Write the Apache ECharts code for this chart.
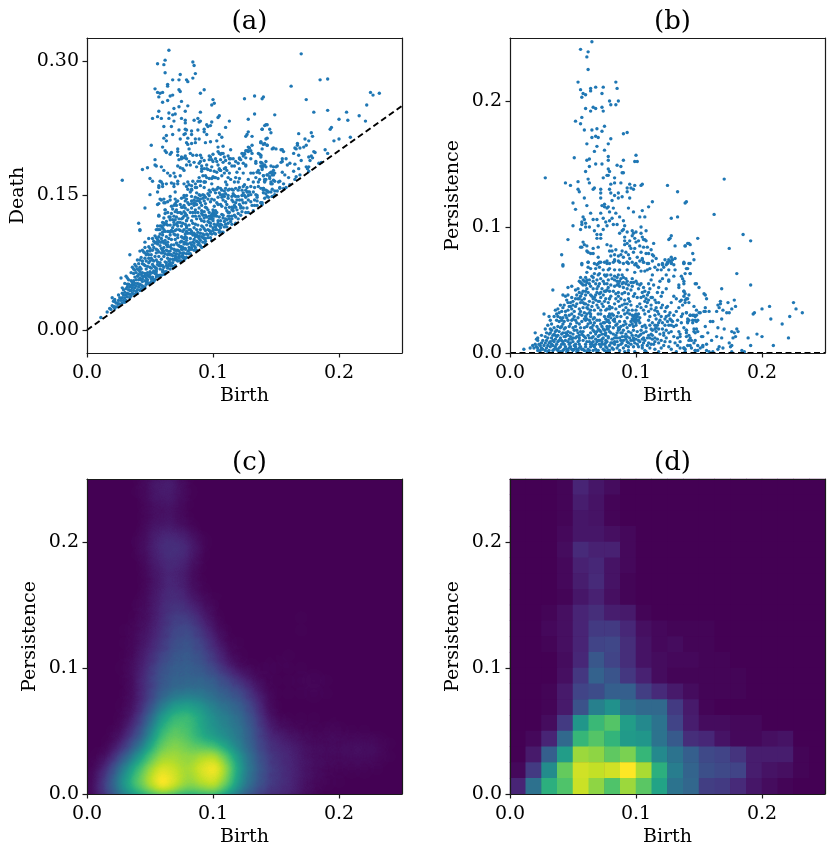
<!DOCTYPE html>
<html><head><meta charset="utf-8">
<style>html,body{margin:0;padding:0;background:#fff}#c{width:835px;height:857px}</style>
<script src="https://cdn.jsdelivr.net/npm/echarts@6/dist/echarts.min.js"></script>
</head><body><div id="c"></div>
<script>
// Points: [birth, persistence] in thousandths.
const ptsUpper=[[65,247],[56,241],[62,239],[61,235],[62,225],[54,215],[84,215],[56,209],[64,210],[64,208],[68,211],[74,211],[85,210],[73,206],[58,206],[60,205],[57,203],[79,200],[86,200],[80,197],[84,197],[60,194],[66,195],[68,194],[73,195],[64,192],[74,192],[57,187],[52,184],[56,182],[75,180],[59,177],[65,177],[69,178],[73,176],[90,174],[93,175],[68,172],[65,171],[70,171],[80,170],[61,166],[69,164],[78,166],[75,161],[67,160],[51,155],[78,156],[61,153],[63,154],[78,153],[90,153],[100,157],[99,152],[101,152],[63,148],[68,150],[73,150],[85,149],[88,148],
[28,139],[44,135],[54,136],[48,133],[62,138],[63,135],[54,130],[55,128],[67,131],[66,130],[72,130],[72,127],[79,130],[80,127],[80,134],[83,135],[88,135],[83,139],[74,139],[77,141],[78,141],[78,146],[79,144],[89,143],[90,143],[60,144],[95,134],[99,133],[96,131],[93,131],[93,128],[98,130],[104,133],[105,134],[125,133],[133,128],[86,127],[83,125],[86,123],[89,124],[81,121],[95,123],[72,123],[59,123],[50,119],[52,114],[61,117],[73,117],[75,118],[75,116],[77,115],[78,116],[82,115],[79,112],[84,111],[94,115],[98,112],[105,113],[110,116],[113,120],[140,120],[64,111],[72,111],[58,108],[59,106],[66,106],[69,106],[74,107],[81,107],[87,108],[90,105],[103,108],[107,108],[128,107],[133,108],[57,104],[60,103],[57,102],[50,101],[76,104],[79,105],[82,102],[70,101],[77,101],[85,102],[60,100],[63,100],[56,98],[74,98],[91,101],[90,98],[89,97],[87,95],[93,96],[104,100],[108,97],[67,97],[69,94],[72,94],[97,97],[100,96],[104,95],[98,95],[97,93],[91,92],[99,91],[69,91],[72,91],[46,90],[106,90],[107,90],[108,89],[91,89],[102,89],[95,89],[127,91],[128,93],[126,90],[114,87],[93,87],[91,86],[95,85],[99,83],[104,80],[131,85],[139,85],[142,87],[58,88],[59,86],[61,85],[56,84],[57,84],[66,83],[70,84],[77,86],[80,85],[79,81],[81,81],[84,82],[89,81],[61,81],[62,80],[64,79],[66,79],[41,78],[70,76],[80,77],[90,76],[101,76],[105,75],[108,79],[110,79],[113,78],[114,77],[128,76],[131,75],[123,74],[125,71],[127,73],[128,71],[121,71],[138,71],[142,71],[42,70],[57,71],[62,72],[70,71],[72,72],[75,72],[79,71],[83,74],[83,73],[86,73],[90,71],[93,72],[94,71],[100,71],[105,74],[106,72],[110,71]];
const ptsRight=[[170,138],[139,119],[162,110],[149,91],[185,94],[191,89],[139,85],[141,87],[143,86],[174,83],[145,79],[146,74],[138,71],[143,71],[140,67],[180,63],[143,63],[136,61],[137,59],[138,57],[138,55],[147,55],[150,52],[191,54],[168,51],[138,49],[139,47],[142,46],[155,46],[156,43],[140,43],[136,42],[139,40],[142,40],[137,38],[146,37],[178,42],[173,40],[167,41],[167,39],[165,38],[166,36],[155,36],[148,34],[169,34],[176,35],[179,37],[225,40],[227,35],[232,32],[206,37],[200,35],[194,32],[193,31],[207,27],[222,29],[216,23],[221,12],[209,6],[200,13],[196,15],[189,12],[191,6],[184,2],[186,1],[137,31],[140,32],[143,30],[145,30],[147,29],[151,32],[155,33],[158,33],[164,33],[172,32],[174,32],[168,27],[141,27],[141,25],[145,26],[145,24],[148,25],[149,26],[159,25],[161,25],[155,21],[165,20],[170,19],[180,19],[181,17],[176,17],[178,16],[140,18],[146,17],[148,19],[147,16],[157,16],[135,15],[140,16],[142,14],[140,13],[143,12],[152,13],[164,13],[168,12],[179,13],[177,12],[160,10],[144,10],[146,8],[174,8],[175,5],[176,6],[166,5],[169,4],[165,3],[156,7],[153,6],[153,5],[149,6],[138,4],[139,3],[147,2],[149,2],[156,2],[161,1],[158,1],[176,1]];
const ptsDenseLeft=[[42,69],[34,50],[27,31],[46,52],[49,53],[42,46],[44,45],[46,46],[56,60],[55,57],[58,58],[59,57],[57,55],[60,54],[56,56],[58,54],[57,70],[62,72],[62,68],[61,64],[64,67],[67,71],[69,70],[71,72],[68,67],[71,68],[71,63],[74,66],[75,62],[77,71],[78,66],[76,61],[70,62],[67,63],[72,59],[74,57],[61,58],[65,61],[66,57],[68,55],[71,55],[75,55],[78,58],[61,51],[64,53],[54,51],[52,50],[58,49],[60,49],[66,51],[69,51],[73,51],[77,50],[64,46],[65,45],[68,46],[71,47],[74,46],[56,45],[59,43],[54,43],[52,43],[49,44],[46,40],[48,40],[50,41],[53,39],[56,40],[63,41],[66,40],[69,38],[71,41],[75,41],[79,43],[40,38],[38,35],[42,36],[44,33],[49,35],[51,33],[55,35],[58,36],[62,35],[64,34],[67,34],[74,37],[77,35],[79,37],[37,31],[39,32],[31,29],[32,26],[38,29],[40,28],[44,30],[49,31],[51,29],[54,28],[57,30],[60,29],[64,29],[66,27],[70,31],[72,31],[75,29],[79,30],[37,26],[39,25],[41,26],[42,23],[46,26],[49,26],[53,24],[57,25],[60,26],[64,24],[67,24],[71,26],[75,24],[78,26],[38,21],[40,20],[44,20],[47,21],[52,21],[56,20],[61,21],[65,20],[69,21],[73,21],[77,21],[28,19],[32,19],[20,16],[22,12],[28,13],[32,16],[36,17],[39,17],[42,16],[46,17],[51,18],[54,16],[58,17],[64,16],[67,17],[71,18],[75,18],[79,17],[21,11],[22,10],[26,10],[30,12],[33,12],[37,13],[40,12],[44,13],[48,13],[52,12],[55,12],[59,13],[63,12],[66,13],[70,13],[74,12],[78,13],[25,8],[28,8],[31,8],[35,9],[38,9],[42,9],[46,9],[50,9],[54,9],[58,10],[61,9],[65,8],[69,9],[73,9],[77,9],[11,3],[16,4],[19,4],[21,5],[22,4],[25,4],[29,4],[32,5],[36,5],[40,5],[44,5],[48,5],[52,5],[56,5],[60,5],[64,5],[67,5],[72,5],[76,5],[22,2],[24,2],[28,2],[31,2],[34,2],[38,2],[42,2],[46,2],[50,2],[54,2],[59,2],[63,2],[66,2],[70,2],[75,2],[78,2],[30,1],[40,1],[45,1],[53,1],[61,1],[69,1],[77,1]];
const ptsDenseRight=[[77,73],[82,72],[87,72],[93,72],[99,70],[101,69],[106,72],[109,71],[121,70],[125,72],[128,72],[138,72],[141,67],[143,63],[131,66],[126,66],[124,62],[121,59],[119,57],[126,58],[130,61],[139,63],[148,55],[134,54],[134,52],[126,57],[113,62],[112,58],[104,65],[107,65],[99,64],[93,66],[87,66],[83,66],[79,67],[77,62],[81,59],[85,57],[87,57],[90,56],[92,55],[93,57],[90,52],[93,51],[87,53],[83,53],[80,54],[77,55],[76,49],[79,49],[86,48],[97,59],[101,55],[104,55],[110,55],[114,54],[111,51],[107,49],[102,51],[97,53],[124,51],[121,48],[120,45],[116,40],[130,45],[132,43],[138,49],[141,43],[139,42],[138,45],[154,47],[135,41],[79,43],[84,43],[88,43],[94,43],[98,45],[95,41],[91,39],[87,37],[84,35],[79,35],[76,34],[79,31],[82,30],[86,32],[90,34],[94,34],[97,34],[101,37],[103,39],[107,41],[109,40],[108,37],[112,35],[115,34],[117,33],[115,30],[111,29],[107,31],[102,31],[98,29],[97,27],[99,27],[102,26],[100,24],[97,23],[103,24],[123,33],[120,29],[123,27],[127,27],[130,30],[132,33],[128,22],[132,22],[123,22],[118,24],[115,22],[111,22],[107,22],[108,20],[112,19],[116,20],[118,19],[140,32],[143,30],[146,30],[148,30],[150,32],[154,33],[147,26],[142,26],[141,24],[138,20],[140,18],[146,19],[149,17],[153,13],[77,25],[79,24],[83,25],[87,25],[90,22],[93,20],[86,20],[82,20],[78,19],[76,16],[80,16],[85,16],[89,16],[94,17],[98,18],[101,17],[103,14],[97,14],[91,13],[87,12],[83,12],[78,12],[76,8],[80,8],[85,9],[89,8],[93,9],[98,10],[102,10],[106,12],[109,12],[113,11],[119,15],[122,14],[126,16],[130,13],[133,12],[135,9],[127,9],[123,9],[118,8],[114,7],[110,8],[106,8],[102,5],[98,5],[94,5],[90,4],[85,4],[81,4],[77,4],[79,2],[87,2],[94,2],[105,4],[107,2],[111,4],[115,3],[120,4],[128,3],[135,4],[138,4],[142,10],[143,6],[147,2],[151,4],[147,10],[99,1],[91,1],[108,1],[118,1],[132,1],[139,1]];
const ptsClusters=[[97,30],[99,30],[100,28],[101,29],[99,25],[98,26],[101,26],[103,28],[100,22],[98,21],[100,31],[83,58],[85,60],[88,59],[89,55],[86,55],[90,60],[85,54],[60,60],[61,56],[63,55],[66,43],[68,42],[70,36],[72,34],[61,31],[59,27],[55,23],[53,18],[50,15],[47,11],[43,7],[41,10],[36,11],[34,14],[35,20],[42,28],[46,34],[48,37],[52,37],[60,39],[62,38],[64,31],[67,28],[69,26],[72,23],[74,19],[76,14],[73,15],[70,10],[68,7],[65,12],[62,14],[59,20],[57,15],[55,10],[52,7],[49,11],[47,7],[44,10],[63,26],[66,22],[69,17],[71,14],[73,7],[75,7],[81,11],[84,14],[86,18],[88,21],[91,25],[93,28],[95,31],[92,36],[89,38],[86,41],[83,39],[81,36],[82,26],[84,22],[90,18],[92,15],[95,12],[100,14],[104,18],[105,21],[110,26],[113,24],[116,27],[118,31],[112,15],[115,12],[116,17],[121,19],[124,12],[128,17],[131,8],[126,5],[122,6],[112,7],[105,11],[96,7],[92,6],[88,10],[83,7],[82,3],[57,3],[55,7],[51,3],[48,8],[45,3],[41,7],[37,7],[35,3],[33,7],[30,6],[27,6],[24,6],[26,3],[105,48],[109,46],[113,44],[117,48],[118,52],[116,36],[121,38],[125,37],[128,40],[134,36],[136,29],[133,26],[129,25],[125,25],[136,24],[134,17],[133,6],[135,13],[141,6],[144,4]];
const ptsSecondPass=[[33,23],[35,29],[36,34],[30,22],[29,16],[25,14],[23,7],[20,7],[18,6],[34,10],[37,18],[41,21],[43,25],[45,28],[47,30],[50,27],[52,26],[55,31],[48,23],[50,20],[45,15],[43,13],[39,10],[36,14],[41,33],[43,38],[45,42],[47,37],[50,38],[53,46],[55,48],[57,42],[59,39],[61,36],[63,32],[65,37],[67,44],[69,48],[72,44],[70,41],[73,39],[76,43],[78,40],[80,45],[82,49],[84,47],[86,45],[89,47],[91,48],[94,47],[96,50],[99,47],[101,44],[104,44],[106,45],[108,43],[110,42],[112,38],[110,33],[106,34],[104,36],[100,34],[96,38],[93,39],[91,42],[81,31],[85,29],[88,29],[91,31],[93,32],[96,25],[95,22],[92,23],[88,16],[85,12],[82,15],[79,21],[77,19],[75,15],[73,11],[71,10],[68,11],[66,9],[63,9],[60,12],[58,14],[56,17],[55,14],[53,13],[50,12],[48,16],[46,14],[44,16],[43,19],[41,15],[38,14],[35,15],[33,18],[31,15],[29,10],[32,9],[34,6],[37,3],[39,4],[43,3],[47,4],[49,3],[51,6],[53,3],[55,4],[58,3],[60,7],[62,3],[64,7],[66,6],[68,3],[71,7],[74,3],[76,10],[79,6],[81,8],[83,9],[86,6],[88,7],[90,10],[92,11],[94,8],[96,10],[99,8],[101,7],[103,9],[105,6],[107,10],[109,6],[111,12],[113,14],[115,9],[117,11],[120,10],[122,16],[124,18],[126,22],[128,26],[130,21],[127,32],[124,36],[120,36],[118,40],[115,42],[112,44],[110,48],[106,52],[103,54],[100,57],[98,56],[96,56],[94,54],[92,59],[89,62],[86,62],[83,61],[80,62],[78,52],[75,49],[72,48],[70,53],[69,58],[66,60],[63,58],[62,48],[60,46],[57,47],[55,43],[58,40],[56,33],[59,32],[61,27],[62,23],[64,20],[66,18],[68,15],[70,19],[72,17],[74,24],[76,27],[78,29],[80,28],[83,27],[85,23],[87,19],[89,13],[93,13],[96,16],[98,12],[100,11],[102,13],[104,15],[106,16],[108,17],[110,14],[113,18],[115,19],[117,22],[119,26],[121,24],[124,29],[126,30]];
const ptsMidBand=[[92,80],[94,78],[96,83],[98,80],[100,88],[103,85],[105,92],[106,84],[109,84],[112,82],[113,73],[116,75],[118,70],[117,66],[120,66],[122,68],[124,70],[126,74],[129,74],[130,70],[115,68],[111,67],[109,66],[102,68],[103,73],[97,72],[95,75],[88,78],[86,77],[83,78]];
// Panel (d): 2D histogram levels (percent of maximum), top row first, columns left to right.
const histRows=[
[0,0,0,1,10,6,3],[0,0,0,1,8,5,1],[0,0,0,1,6,5,1],[0,0,0,2,6,6,4,2],[0,0,0,3,12,9,9,2],[0,0,0,2,9,11,5,2],[0,0,0,2,8,12,5,1],[0,0,0,1,6,9,4,1],
[0,0,1,4,10,13,8,7,1],[0,0,2,4,10,17,17,11,4,2,1,1,1],[0,0,1,4,10,20,21,13,5,2,3,1,1],[0,0,0,3,11,27,20,13,5,3,2,2,1,1],[0,0,0,4,16,31,26,16,9,3,1,1,1,1,1],
[0,0,1,7,20,23,30,30,18,12,7,3,1,1,1],[0,0,1,7,25,43,50,37,34,34,17,7,1],[0,0,3,17,52,67,73,55,47,38,20,8,3,3,2,2],[0,2,10,34,66,73,65,54,52,38,28,13,11,5,2,2,4,5],
[0,7,30,55,85,83,75,80,66,47,38,30,22,20,15,8,8,8,1],[2,17,48,76,93,91,93,100,87,63,42,32,24,22,20,8,5,4,1],[10,37,63,72,92,83,72,85,74,58,38,33,18,17,12,6,3,1]];
// Panel (c): density levels (percent of maximum) at birth and persistence steps of 0.01, top row first.
const kdeRows=[
[0,0,0,0,1,5,10,8,2],[0,0,0,0,2,7,11,9,3],[0,0,0,0,1,5,8,7,2],[0,0,0,0,0,5,7,6,2],[0,0,0,0,1,6,10,9,5,1],[0,0,0,0,2,8,14,15,12,4],[0,0,0,0,2,8,14,15,12,3],[0,0,0,0,1,6,11,12,8,2],[0,0,0,0,0,5,10,12,7,2],[0,0,0,0,1,5,11,14,9,4,1],[0,0,0,0,2,6,12,16,12,7,2],
[0,0,0,1,3,7,13,19,18,11,4,1,0,0,0,0,0,2],[0,0,0,2,5,9,14,21,22,16,8,2,1,0,0,0,1,2],[0,0,0,2,5,10,16,23,25,19,12,4,2,1,0,0,1],[0,0,0,2,6,12,19,25,27,22,16,7,3,1,0,0,2],
[0,0,0,3,7,15,24,28,28,25,20,10,5,3,2,2,2,2,1],[0,0,0,2,8,17,26,29,28,30,28,22,15,8,3,2,2,3,4,2],[0,0,0,2,8,17,27,32,34,34,30,26,22,14,6,2,2,2,3,2],[0,0,0,3,9,20,37,48,50,46,38,33,29,20,8,2,1,1],
[0,0,1,4,12,28,50,60,64,52,43,38,33,24,10,3,2,2,2,1],[0,0,2,7,18,35,59,66,60,50,44,40,36,27,14,8,5,4,3,3,3,2,2,1],[0,1,4,13,26,44,67,72,66,58,52,45,37,27,16,12,11,7,5,5,5,6,6,5,2],
[0,3,9,24,42,60,76,76,72,75,80,63,44,32,20,14,12,8,6,5,5,6,6,5,2],[1,6,20,40,57,73,85,80,72,85,93,76,47,33,22,15,13,9,6,4,3,3,3,2],[1,10,27,48,66,80,96,85,72,78,86,68,44,31,21,15,13,8,5,3,2],[0,9,24,42,52,60,64,60,56,58,60,50,35,24,16,13,10,6,3,1]];
const xTicks=[0,0.1,0.2];
const yTicksA=[0,0.15,0.3];
const yTicksP=[0,0.1,0.2];
const panelTitles=['(a)','(b)','(c)','(d)'];
const viridis=['#440154','#482475','#414487','#355f8d','#2a788e','#21918c','#22a884','#44bf70','#7ad151','#bddf26','#fde725'];

const points=[...ptsUpper,...ptsRight,...ptsDenseLeft,...ptsDenseRight,...ptsClusters,...ptsSecondPass,...ptsMidBand];
const birthPers=points.map(p=>[p[0]/1000,p[1]/1000]);
const birthDeath=points.map(p=>[p[0]/1000,(p[0]+p[1])/1000]);
const histData=[];
histRows.forEach((r,i)=>{for(let c=0;c<20;c++)histData.push([c,19-i,(r[c]||0)/100]);});
const AMAX=10/11, KERNEL_SUM=2.3, EDGE=1.1;
const kdeData=[];
kdeRows.forEach((r,i)=>{const j=25-i;r.forEach((v,c)=>{if(!v)return;
  const s=j===0?KERNEL_SUM/EDGE:KERNEL_SUM;
  kdeData.push([c*0.01,j*0.01,Math.min(1,-Math.log(1-v/100*AMAX)/s)]);});});

const FONT='"DejaVu Serif"';
const boxes=[[87,38],[510,38],[87,479],[510,479]];
const SIZE=315;
const ranges=[[-0.02565,0.3257],[0,0.25],[0,0.25],[0,0.25]];
const names=['Death','Persistence','Persistence','Persistence'];
const yTicks=[yTicksA,yTicksP,yTicksP,yTicksP];
const line={lineStyle:{color:'#1a1a1a',width:1.2}};
const grid=[],xAxis=[],yAxis=[],title=[];
boxes.forEach((b,p)=>{
  grid.push({left:b[0],top:b[1],width:SIZE,height:SIZE,containLabel:false,show:p>=2,backgroundColor:'#440154',borderWidth:0});
  title.push({text:panelTitles[p],left:b[0]+SIZE/2,top:b[1]-34,textAlign:'center',textStyle:{fontFamily:FONT,fontSize:26,fontWeight:'normal',color:'#000'}});
  xAxis.push({type:'value',gridIndex:p,min:0,max:0.25,position:'bottom',z:10,name:'Birth',nameLocation:'middle',nameGap:33.5,
    nameTextStyle:{fontFamily:FONT,fontSize:19,color:'#000'},axisLine:{show:true,onZero:false,...line},splitLine:{show:false},
    axisTick:{show:true,length:4.5,customValues:xTicks,...line},
    axisLabel:{customValues:xTicks,fontFamily:FONT,fontSize:19,color:'#000',margin:11,formatter:v=>v.toFixed(1)}});
  yAxis.push({type:'value',gridIndex:p,min:ranges[p][0],max:ranges[p][1],position:'left',z:10,name:names[p],nameLocation:'middle',nameGap:p===0?59.5:47,
    nameTextStyle:{fontFamily:FONT,fontSize:19,color:'#000'},axisLine:{show:true,onZero:false,...line},splitLine:{show:false},
    axisTick:{show:true,length:4.5,customValues:yTicks[p],...line},
    axisLabel:{customValues:yTicks[p],fontFamily:FONT,fontSize:19,color:'#000',margin:8,formatter:v=>v.toFixed(p===0?2:1)}});
  const cats=Array.from({length:20},(_,i)=>i);
  const frameX=p===3?{type:'category',data:cats,boundaryGap:true}:{type:'value',min:0,max:0.25};
  const frameY=p===3?{type:'category',data:cats,boundaryGap:true}:{type:'value',min:ranges[p][0],max:ranges[p][1]};
  xAxis.push({...frameX,gridIndex:p,position:'top',z:10,axisLine:{show:true,onZero:false,...line},axisTick:{show:false},axisLabel:{show:false},splitLine:{show:false}});
  yAxis.push({...frameY,gridIndex:p,position:'right',z:10,axisLine:{show:true,onZero:false,...line},axisTick:{show:false},axisLabel:{show:false},splitLine:{show:false}});
});
echarts.registerMap('birthPersistence',{type:'FeatureCollection',features:[{type:'Feature',properties:{name:'box'},
  geometry:{type:'Polygon',coordinates:[[[0,0],[0.25,0],[0.25,0.25],[0,0.25],[0,0]]]}}]});
const chart=echarts.init(document.getElementById('c'),null,{renderer:'canvas'});
const dots={type:'scatter',symbolSize:3.4,itemStyle:{color:'#1f77b4',opacity:1},silent:true,animation:false,z:3};
const dash={type:'line',showSymbol:false,silent:true,animation:false,z:4,clip:true,lineStyle:{color:'#000',width:2,type:[6,3.5]}};
chart.setOption({
  animation:false,backgroundColor:'#fff',title,grid,xAxis,yAxis,
  geo:{map:'birthPersistence',left:87,top:479,width:SIZE,height:SIZE,aspectScale:1,roam:false,silent:true,z:1,
    boundingCoords:[[0,0.25],[0.25,0]],itemStyle:{areaColor:'#440154',borderWidth:0},label:{show:false},emphasis:{disabled:true}},
  visualMap:[
    {show:false,type:'continuous',min:0,max:1,seriesIndex:4,inRange:{color:[...viridis,'#fde725']}},
    {show:false,type:'continuous',min:0,max:1,seriesIndex:5,inRange:{color:viridis}}],
  series:[
    {...dots,xAxisIndex:0,yAxisIndex:0,data:birthDeath},
    {...dash,xAxisIndex:0,yAxisIndex:0,data:[[0,0],[0.25,0.25]]},
    {...dots,xAxisIndex:2,yAxisIndex:2,data:birthPers},
    {...dash,xAxisIndex:2,yAxisIndex:2,data:[[0,0],[0.25,0]]},
    {type:'heatmap',coordinateSystem:'geo',geoIndex:0,data:kdeData,pointSize:12,blurSize:14,minOpacity:1,maxOpacity:1,silent:true,z:2},
    {type:'heatmap',xAxisIndex:7,yAxisIndex:7,data:histData,silent:true,progressive:0,z:2,itemStyle:{borderWidth:0},emphasis:{disabled:true}}
  ]
});
</script></body></html>
